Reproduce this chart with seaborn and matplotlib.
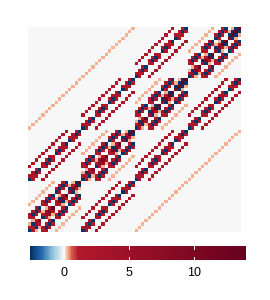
import numpy as np
import matplotlib
matplotlib.use('Agg')
import matplotlib.pyplot as plt
from matplotlib.colors import LinearSegmentedColormap
import seaborn as sns

plt.rcParams['font.family'] = ['Liberation Sans', 'DejaVu Sans']

# one character per cell, bottom row of each block first
levels = {'.': 0, 'o': 0.3, 'r': 1.8, 'b': -2.5, 'm': 6, 'd': 10, 'k': 14}

dense_low = [
    "bro.rr..o.......",
    "rrborbr..o......",
    "obmr.rbr..o.....",
    ".ord..rb...o....",
    "rr..bro.rr..o...",
    "rbr.rmmorbr..o..",
    ".rbromdr.rbr..o.",
    "..rb.ork..rb...o",
    "o...rr..rro.br..",
    ".o..rbr.rdborbr.",
    "..o..rbrobdr.rbr",
    "...o..rb.ork..rb",
    "....o...br..mbo.",
    ".....o..rbr.bdro",
    "......o..rbrorkb",
    ".......o..rb.obk",
]

dense_high = [
    "bro.rr..o.......",
    "rmborbr..o......",
    "obdr.rbr..o.....",
    ".ork..rb...o....",
    "rr..mbo.rr..o...",
    "rbr.bdrorbr..o..",
    ".rbrorkb.rbr..o.",
    "..rb.obk..rb...o",
    "o...rr..mbo.br..",
    ".o..rbr.bdrorbr.",
    "..o..rbrorkb.rbr",
    "...o..rb.obk..rb",
    "....o...br..dbo.",
    ".....o..rbr.bkbo",
    "......o..rbrobkb",
    ".......o..rb.obk",
]

sparse = [
    "br..r...........",
    "rrr..r..........",
    ".rbr..r.........",
    "..rb...r........",
    "r...rr..r.......",
    ".r..rbr..r......",
    "..r..rbr..r.....",
    "...r..rr...r....",
    "....r...br..r...",
    ".....r..rbr..r..",
    "......r..rrr..r.",
    ".......r..rb...r",
    "........r...br..",
    ".........r..rrr.",
    "..........r..rbr",
    "...........r..rb",
]

orange = ["." * i + "o" + "." * (15 - i) for i in range(16)]
empty = ["." * 16] * 16


def block(rows):
    return np.array([[levels[c] for c in row] for row in rows], dtype=float)


a = block(dense_low)
h = block(dense_high)
s = block(sparse)
o = block(orange)
z = block(empty)
matrix = np.block([
    [a, s.T, o, z],
    [s, a, s.T, o],
    [o, s, h, s.T],
    [z, o, s, h],
])

colours = ["#053061", "#2166AC", "#92C5DE", "#D1E5F0", "#F7F7F7", "#F7F7F7", "#F4A582", "#D6604D", "#B2182B", "#67001F"]
nodes = [0, 0.05, 0.105, 0.137, 0.154, 0.159, 0.175, 0.19, 0.223, 1]
cmap = LinearSegmentedColormap.from_list("rdbu", list(zip(nodes, colours)), N=256)

fig = plt.figure(figsize=(2.7, 3.0), dpi=100)
ax = fig.add_axes([28 / 270, 1 - 232 / 300, 213 / 270, 205 / 300])
cax = fig.add_axes([30 / 270, 1 - 260 / 300, 216 / 270, 14 / 300])
sns.heatmap(matrix, ax=ax, cbar_ax=cax, cmap=cmap, vmin=-2.6, vmax=14, xticklabels=False, yticklabels=False,
            antialiased=False, cbar_kws={'orientation': 'horizontal', 'ticks': [0, 5, 10]})
ax.invert_yaxis()
cax.tick_params(length=0, labelsize=9, colors='black', pad=5)
for v in [0, 5, 10]:
    cax.plot([v, v], [0, 0.2], color='white', lw=0.7, transform=cax.get_xaxis_transform())
    cax.plot([v, v], [0.8, 1], color='white', lw=0.7, transform=cax.get_xaxis_transform())
fig.savefig('out.png', dpi=100)
